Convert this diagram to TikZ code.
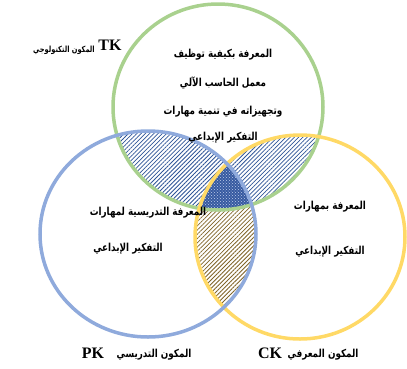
\documentclass[tikz,border=0pt]{standalone}
\usepackage{graphicx}
\usepackage{fontspec}
\setmainfont{Liberation Serif}
\newfontfamily\arabicfont[Script=Arabic]{DejaVu Sans}
\TeXXeTstate=1
\usetikzlibrary{patterns,patterns.meta}
\definecolor{tkgreen}{RGB}{169,209,142}
\definecolor{pkblue}{RGB}{143,170,220}
\definecolor{ckyellow}{RGB}{255,217,102}
\definecolor{hatchblue}{RGB}{47,85,151}
\definecolor{hatchbrown}{RGB}{128,100,40}
\definecolor{coreblue}{RGB}{55,90,160}
% Arabic line, slightly condensed
\newcommand\artext[2][0.8]{\scalebox{#1}[1]{\beginR #2\endR}}
\begin{document}
\begin{tikzpicture}[x=1pt,y=-1pt,
  ring/.style={line width=3.5pt},
  ar/.style={font=\arabicfont\bfseries\fontsize{11}{13}\selectfont, inner sep=0pt},
  arsmall/.style={font=\arabicfont\bfseries\fontsize{8.5}{10}\selectfont, inner sep=0pt},
  tag/.style={font=\bfseries\fontsize{16}{18}\selectfont, inner sep=0pt},
  bluehatch/.style={pattern={Lines[angle=45,distance=3pt,line width=0.8pt]}, pattern color=hatchblue},
  brownhatch/.style={pattern={Lines[angle=45,distance=3pt,line width=0.8pt]}, pattern color=hatchbrown}]
\useasboundingbox (0,0) rectangle (407,368);

% technology knowledge overlaps, hatched blue
\begin{scope}
  \clip (218,107) ellipse [x radius=105pt, y radius=103pt];
  \fill[bluehatch] (148,234) ellipse [x radius=108pt, y radius=103pt];
  \fill[bluehatch] (300,237) ellipse [x radius=105pt, y radius=102pt];
\end{scope}

% pedagogy / content overlap, hatched brown
\begin{scope}
  \clip (148,234) ellipse [x radius=108pt, y radius=103pt];
  \fill[white] (300,237) ellipse [x radius=105pt, y radius=102pt];
  \fill[brownhatch] (300,237) ellipse [x radius=105pt, y radius=102pt];
\end{scope}

% common core of the three
\begin{scope}
  \clip (218,107) ellipse [x radius=105pt, y radius=103pt];
  \clip (148,234) ellipse [x radius=108pt, y radius=103pt];
  \fill[coreblue] (300,237) ellipse [x radius=105pt, y radius=102pt];
  \fill[pattern=crosshatch dots, pattern color=pkblue!60] (300,237) ellipse [x radius=105pt, y radius=102pt];
\end{scope}

% the three rings
\draw[ring, tkgreen] (218,107) ellipse [x radius=105pt, y radius=103pt];
\draw[ring, ckyellow] (300,237) ellipse [x radius=105pt, y radius=102pt];
\draw[ring, pkblue] (148,234) ellipse [x radius=108pt, y radius=103pt];

% texts inside the rings
\node[ar] (tk1) at (223,55) {\artext{المعرفة بكيفية توظيف}};
\node[ar] (tk2) at (223,83) {\artext{معمل الحاسب الآلي}};
\node[ar] (tk3) at (223,112) {\artext{وتجهيزاته في تنمية مهارات}};
\node[ar] (tk4) at (223,138) {\artext{التفكير الإبداعي}};

\node[ar] (ck1) at (330,207) {\artext{المعرفة بمهارات}};
\node[ar] (ck2) at (330,252) {\artext{التفكير الإبداعي}};

\node[ar] (pk1) at (148,213) {\artext{المعرفة التدريسية لمهارات}};
\node[ar] (pk2) at (128,249) {\artext{التفكير الإبداعي}};

% component labels
\node[tag] (tkt) at (110,45) {TK};
\node[arsmall] (tka) at (64,50) {\artext[0.78]{المكون التكنولوجي}};
\node[tag] (pkt) at (93,353) {PK};
\node[ar] (pka) at (154,355) {\artext{المكون التدريسي}};
\node[tag] (ckt) at (270,353) {CK};
\node[ar] (cka) at (323,355) {\artext{المكون المعرفي}};
\end{tikzpicture}
\end{document}
